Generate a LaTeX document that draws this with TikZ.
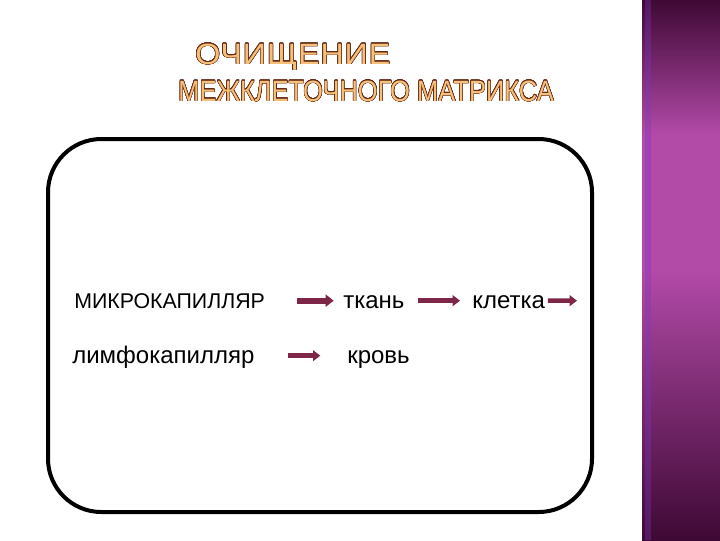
\documentclass[tikz,border=0pt]{standalone}
\usepackage{fontspec}
\setmainfont{Liberation Sans}
\newfontfamily\titlewide[FakeStretch=1.1, LetterSpace=3]{Liberation Sans}
\newfontfamily\titlenarrow[FakeStretch=0.87]{Liberation Sans}
\usepackage[copies]{contour}
\contourlength{0.4pt}
\contournumber{24}
\usetikzlibrary{arrows.meta}
\definecolor{arrowred}{RGB}{125,38,72}
\definecolor{titlefill}{RGB}{246,192,122}
\definecolor{titleline}{RGB}{100,42,22}
\definecolor{bardark}{RGB}{62,9,52}
\definecolor{barlight}{RGB}{178,74,168}
\tikzset{
  word/.style={anchor=base west, inner sep=0pt, text height=11pt, text depth=0pt,
    font=\fontsize{18}{21}\selectfont},
  capword/.style={word, font=\fontsize{16}{19}\selectfont},
  headline/.style={anchor=base west, inner sep=0pt, text=titlefill},
  flow/.style={draw=arrowred, line width=3.4pt, -{Triangle[length=5.5pt,width=8pt]}}
}

\begin{document}
\begin{tikzpicture}[x=0.75pt, y=-0.75pt]
  \useasboundingbox (0,0) rectangle (720,540);
  % side bar
  \shade[top color=bardark, bottom color=barlight, middle color=barlight] (642,0) rectangle (720,270);
  \shade[top color=barlight, bottom color=bardark] (642,270) rectangle (720,540);
  \fill[barlight!70!blue, opacity=0.35] (645,0) rectangle (651,540);
  % title
  \node[headline, font=\titlewide\fontsize{22}{26}\selectfont] (head1) at (195,64)
    {\contour{titleline}{ОЧИЩЕНИЕ}};
  \node[headline, font=\titlenarrow\fontsize{22}{26}\selectfont] (head2) at (178,101)
    {\contourlength{0.3pt}\contour{titleline}{МЕЖКЛЕТОЧНОГО МАТРИКСА}};
  % frame
  \draw[line width=3pt, rounded corners=40] (48,139) rectangle (592,512);
  % words
  \node[capword] (mk) at (74,308) {МИКРОКАПИЛЛЯР};
  \node[word] (tk) at (343,308) {ткань};
  \node[word] (kl) at (472,308) {клетка};
  \coordinate (out) at (577,300.7);
  \node[word] (lf) at (72,363) {лимфокапилляр};
  \node[word] (kr) at (347,363) {кровь};
  % arrows
  \draw[flow, line width=4.4pt, -{Triangle[length=6pt,width=9pt]}, shorten <=24pt, shorten >=7pt] (mk) -- (tk);
  \draw[flow, shorten <=10pt, shorten >=9pt] (tk) -- (kl);
  \draw[flow, shorten <=2pt] (kl) -- (out);
  \draw[flow, shorten <=25pt, shorten >=20pt] (lf) -- (kr);
\end{tikzpicture}
\end{document}
